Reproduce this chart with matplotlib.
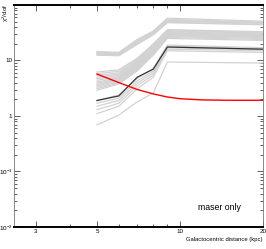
import numpy as np
import matplotlib
matplotlib.use("Agg")
import matplotlib.pyplot as plt
from matplotlib.ticker import FixedLocator, NullFormatter, LogLocator

plt.rcParams['mathtext.default'] = 'regular'
plt.rcParams['font.family'] = ['Liberation Sans', 'DejaVu Sans']

# DATA
radius = [5, 6, 7, 8, 9, 20]

grey_top = [
    [14.5, 14.0, 24, 34, 58, 51],
    [14.0, 13.6, 23, 33, 55, 49],
    [13.6, 13.2, 22, 32, 53, 48],
    [13.2, 12.8, 21, 31, 51, 47],
    [12.8, 12.5, 20, 30, 49, 45],
    [12.5, 12.2, 19.5, 29, 48, 44],
]

grey_mid = [
    [6.2, 6.8, 11, 20, 36, 33],
    [5.8, 6.4, 10.5, 19, 35, 32],
    [5.4, 6.0, 10, 18, 34, 31],
    [5.0, 5.7, 9.6, 17.5, 33, 30],
    [4.7, 5.4, 9.2, 17, 32, 29],
    [4.4, 5.1, 8.8, 16, 31, 28.5],
    [4.1, 4.9, 8.4, 15.5, 30, 28],
    [3.9, 4.7, 8.0, 15, 29.5, 27],
    [3.7, 4.5, 7.7, 14.5, 29, 26.5],
    [3.5, 4.3, 7.4, 14, 28, 26],
    [3.3, 4.1, 7.1, 13.5, 27, 25],
    [3.1, 3.9, 6.8, 13, 26, 24],
    [2.9, 3.8, 6.5, 12.5, 25, 23],
]

grey_low = [
    [1.9, 2.4, 4.8, 7.2, 19, 17],
    [1.7, 2.1, 4.3, 6.5, 18, 16.5],
    [1.5, 1.9, 3.9, 6.0, 17, 15.5],
    [1.3, 1.7, 3.5, 5.5, 16, 15],
    [1.1, 1.5, 3.1, 5.0, 15, 14],
]

grey_bottom = [0.69, 1.04, 1.8, 2.6, 9.4, 9.0]

best_fit = [1.9, 2.3, 5.0, 7.0, 17.5, 16]

red_radius = [5, 6, 7, 8, 9, 10, 12, 15, 20]
red_chi2 = [5.7, 4.0, 3.0, 2.5, 2.2, 2.05, 1.95, 1.92, 1.92]

xticks = [3, 5, 10, 20]
xtick_labels = ["3", "5", "10", "20"]
yticks = [0.01, 0.1, 1, 10]
ytick_labels = ["$10^{-2}$", "$10^{-1}$", "1", "10"]

# PLOT
fig = plt.figure(figsize=(2.66, 2.49), dpi=100)
ax = fig.add_axes([14/266, 22/249, 249/266, 222/249])

grey = "#d2d2d2"
for line in grey_top + grey_mid + grey_low + [grey_bottom]:
    ax.plot(radius, line, color=grey, lw=0.9)
ax.plot(radius, best_fit, color="#333333", lw=0.9)
ax.plot(red_radius, red_chi2, color="red", lw=1.0)

ax.set_xscale("log")
ax.set_yscale("log")
ax.set_xlim(2.5, 20)
ax.set_ylim(0.01, 100)

ax.xaxis.set_major_locator(FixedLocator(xticks))
ax.set_xticklabels(xtick_labels)
ax.xaxis.set_minor_locator(FixedLocator([4, 6, 7, 8, 9]))
ax.xaxis.set_minor_formatter(NullFormatter())
ax.yaxis.set_major_locator(FixedLocator(yticks))
ax.set_yticklabels(ytick_labels)
ax.yaxis.set_minor_locator(LogLocator(base=10, subs=range(2, 10), numticks=20))
ax.yaxis.set_minor_formatter(NullFormatter())

ax.tick_params(which="both", direction="in", top=True, right=True,
               labelsize=4.5, pad=1.2, color="#444444")
ax.tick_params(which="major", length=4, width=0.6)
ax.tick_params(which="minor", length=2.5, width=0.6)

for side in ["top", "bottom"]:
    ax.spines[side].set_linewidth(1.4)
for side in ["left", "right"]:
    ax.spines[side].set_linewidth(0.6)
    ax.spines[side].set_color("#777777")

fig.text(241/266, 1 - 208/249, "maser only", fontsize=6.3,
         ha="right", va="center")
fig.text(262/266, 1 - 239/249, "Galactocentric distance (kpc)", fontsize=4.2,
         ha="right", va="center")
fig.text(6/266, 0.985, "$\\chi^2$/dof", fontsize=4.5, rotation=90,
         ha="center", va="top")

fig.savefig("out.png", dpi=100)
